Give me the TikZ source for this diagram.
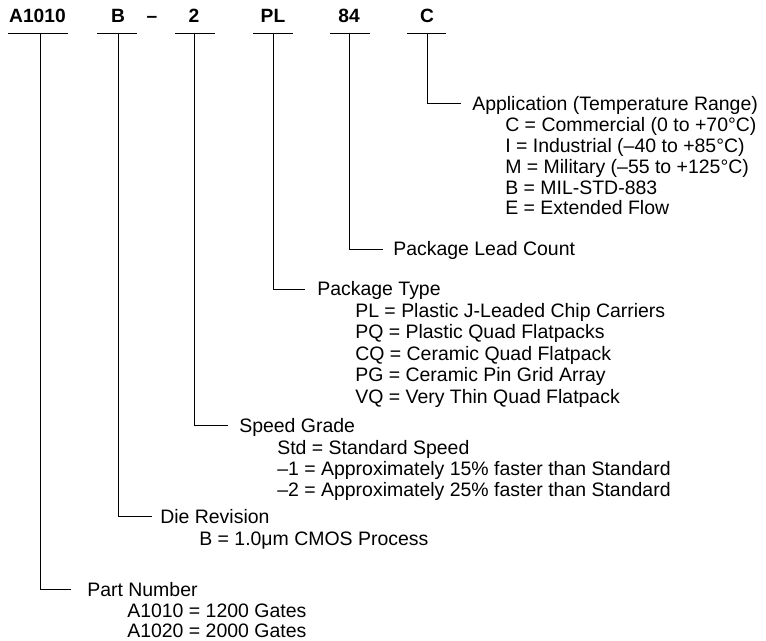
\documentclass[tikz,border=0pt]{standalone}
\usepackage{fontspec}
\setmainfont{Liberation Sans}
\begin{document}
\begin{tikzpicture}[x=0.75pt,y=-0.75pt,
  hdr/.style={font=\fontsize{14.4pt}{16pt}\selectfont\bfseries, inner sep=0pt, anchor=base},
  ttl/.style={font=\fontsize{14.6pt}{16pt}\selectfont, inner sep=0pt, anchor=base west},
  itm/.style={font=\fontsize{14.6pt}{16pt}\selectfont, inner sep=0pt, anchor=base west},
  ln/.style={line width=0.6pt, black}]
\useasboundingbox (0,0) rectangle (766,641);
% header
\node[hdr] (hA) at (37.5,23) {A1010};
\node[hdr] (hB) at (118,23) {B};
\node[hdr] (hD) at (152,23) {–};
\node[hdr] (h2) at (194,23) {2};
\node[hdr] (hP) at (273,23) {PL};
\node[hdr] (h8) at (349,23) {84};
\node[hdr] (hC) at (427,23) {C};
% underlines
\draw[ln] (8,33) -- (68,33);
\draw[ln] (97,33) -- (137,33);
\draw[ln] (175,33) -- (215,33);
\draw[ln] (253,33) -- (293,33);
\draw[ln] (330,33) -- (370,33);
\draw[ln] (407,33) -- (446,33);
\coordinate (uA) at (40,33);
\coordinate (uB) at (118,33);
\coordinate (u2) at (194,33);
\coordinate (uP) at (273,33);
\coordinate (u8) at (349,33);
\coordinate (uC) at (427,33);
% Application
\node[ttl] (tC) at (472,111) {Application (Temperature Range)};
\node[itm] (c1) at (505,132) {C = Commercial (0 to +70°C)};
\node[itm] (c2) at (505,153) {I = Industrial (–40 to +85°C)};
\node[itm] (c3) at (505,174) {M = Military (–55 to +125°C)};
\node[itm] (c4) at (505,195) {B = MIL-STD-883};
\node[itm] (c5) at (505,215) {E = Extended Flow};
\coordinate (eC) at (461,103);
\draw[ln] (uC) |- (eC);
% Package lead count
\node[ttl] (t8) at (393,256) {Package Lead Count};
\coordinate (e8) at (383,249);
\draw[ln] (u8) |- (e8);
% Package type
\node[ttl] (tP) at (317,296) {Package Type};
\node[itm] (p1) at (355,317) {PL = Plastic J-Leaded Chip Carriers};
\node[itm] (p2) at (355,338) {PQ = Plastic Quad Flatpacks};
\node[itm] (p3) at (355,360) {CQ = Ceramic Quad Flatpack};
\node[itm] (p4) at (355,381) {PG = Ceramic Pin Grid Array};
\node[itm] (p5) at (355,403) {VQ = Very Thin Quad Flatpack};
\coordinate (eP) at (305,289);
\draw[ln] (uP) |- (eP);
% Speed grade
\node[ttl] (t2) at (239,432) {Speed Grade};
\node[itm] (s1) at (277,454) {Std = Standard Speed};
\node[itm] (s2) at (277,475) {–1 = Approximately 15\% faster than Standard};
\node[itm] (s3) at (277,496) {–2 = Approximately 25\% faster than Standard};
\coordinate (e2) at (228,425);
\draw[ln] (u2) |- (e2);
% Die revision
\node[ttl] (tB) at (160,523) {Die Revision};
\node[itm] (b1) at (199,545) {B = 1.0μm CMOS Process};
\coordinate (eB) at (152,516);
\draw[ln] (uB) |- (eB);
% Part number
\node[ttl] (tA) at (87,596) {Part Number};
\node[itm] (a1) at (127,617) {A1010 = 1200 Gates};
\node[itm] (a2) at (127,637) {A1020 = 2000 Gates};
\coordinate (eA) at (71,589);
\draw[ln] (uA) |- (eA);
\end{tikzpicture}
\end{document}
